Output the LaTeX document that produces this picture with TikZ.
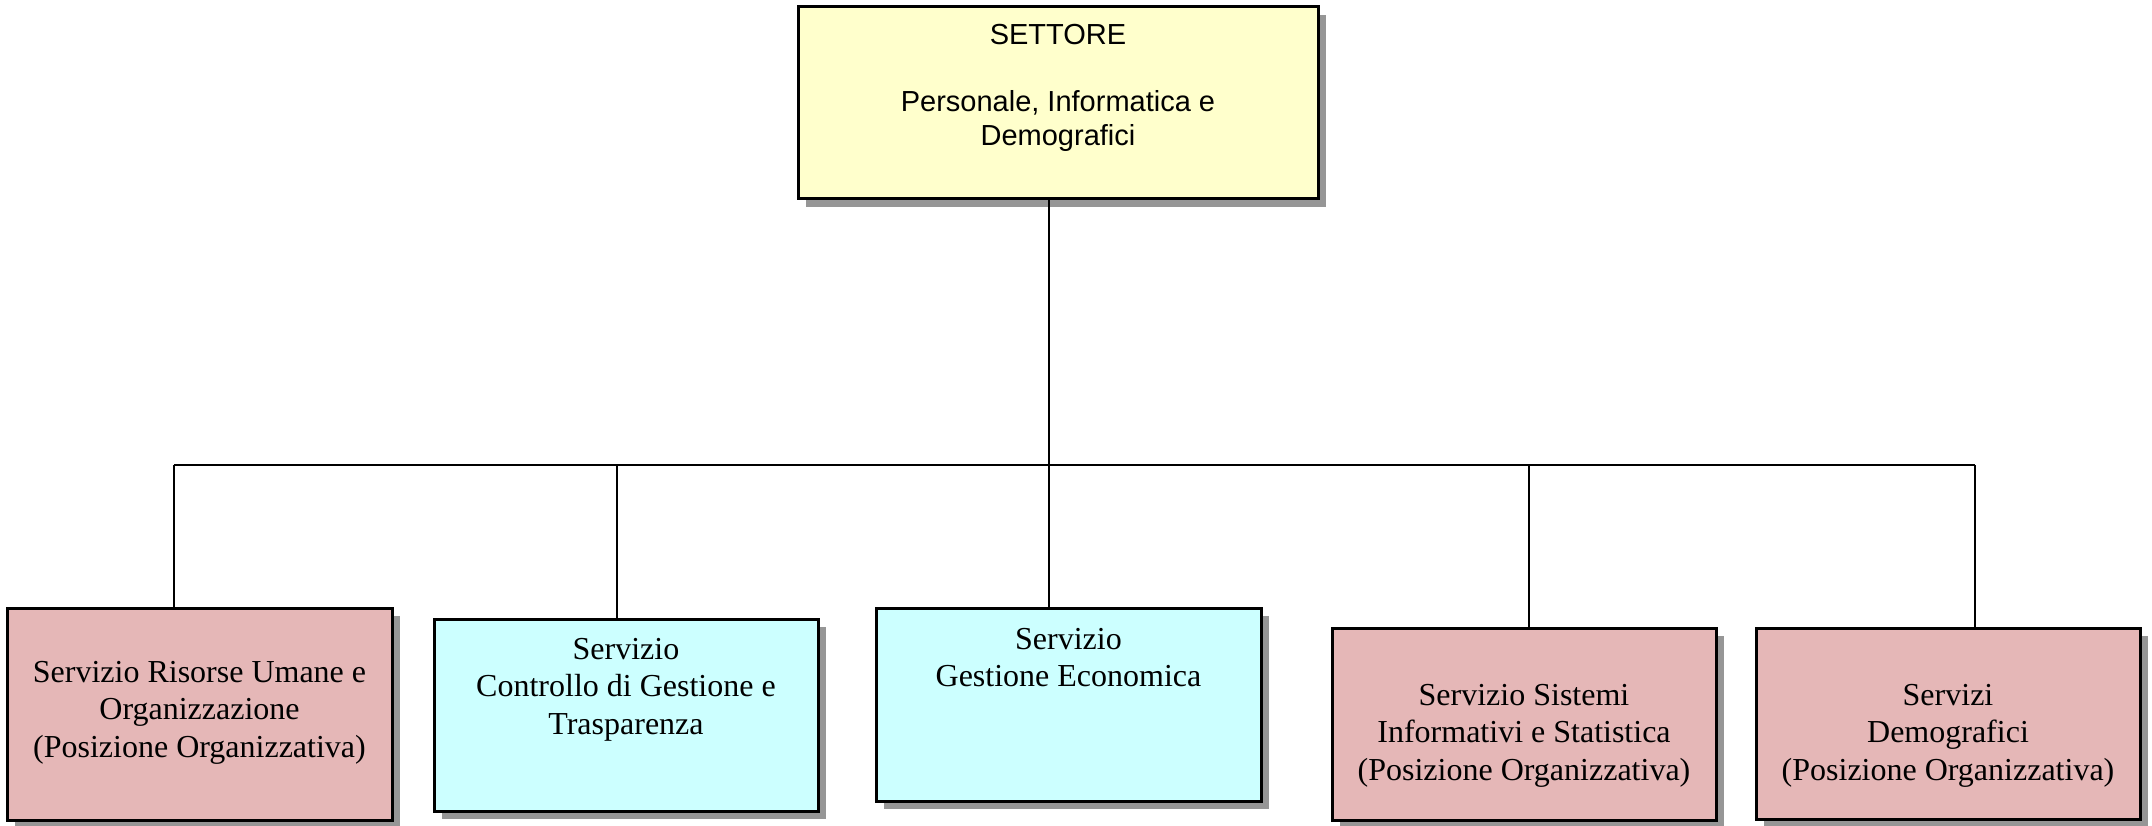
\documentclass[tikz,border=0pt]{standalone}
\usepackage{fontspec}
\setmainfont{Liberation Serif}
\newfontfamily\arialf{Liberation Sans}
\usetikzlibrary{shadows}
\definecolor{yel}{HTML}{FFFFCC}
\definecolor{cya}{HTML}{CCFFFF}
\definecolor{pnk}{HTML}{E5B7B7}
\definecolor{shd}{HTML}{969696}
\tikzset{
  orgbox/.style={draw=black, line width=3pt, inner sep=0pt, outer sep=0pt,
    anchor=north west,
    drop shadow={shadow xshift=8pt, shadow yshift=-8pt, fill=shd, opacity=1}},
  link/.style={line width=2pt, draw=black},
}
\newcommand{\boxtext}[4]{\parbox[c][#2pt][t]{#1pt}{\centering\fontsize{32}{37.5}\selectfont\rule{0pt}{#3pt}#4}}
\begin{document}
\begin{tikzpicture}[x=1pt,y=-1pt]
\useasboundingbox (0,0) rectangle (2152,826);
\node[orgbox, fill=yel] (top) at (798,7)
  {\parbox[c][192pt][t]{520pt}{\centering\arialf\fontsize{29}{33.5}\selectfont\rule{0pt}{38pt}SETTORE\\[33.5pt]Personale, Informatica e\\Demografici}};
\node[orgbox, fill=pnk] (b1) at (7,608)
  {\boxtext{385}{212}{74}{Servizio Risorse Umane e\\Organizzazione\\(Posizione Organizzativa)}};
\node[orgbox, fill=cya] (b2) at (434,619)
  {\boxtext{384}{192}{40}{Servizio\\Controllo di Gestione e\\Trasparenza}};
\node[orgbox, fill=cya] (b3) at (876,608)
  {\boxtext{385}{193}{41}{Servizio\\Gestione Economica}};
\node[orgbox, fill=pnk] (b4) at (1332,628)
  {\boxtext{384}{192}{77}{Servizio Sistemi\\Informativi e Statistica\\(Posizione Organizzativa)}};
\node[orgbox, fill=pnk] (b5) at (1756,628)
  {\boxtext{384}{191}{77}{Servizi\\Demografici\\(Posizione Organizzativa)}};
\coordinate (bus) at (1049,465);
\coordinate (j1) at (174,465);
\coordinate (j2) at (617,465);
\coordinate (j4) at (1529,465);
\coordinate (j5) at (1975,465);
\draw[link] (top.south -| bus) -- (bus);
\draw[link] (j1) -- (j5);
\draw[link] (j1) -- (j1 |- b1.north);
\draw[link] (j2) -- (j2 |- b2.north);
\draw[link] (bus) -- (bus |- b3.north);
\draw[link] (j4) -- (j4 |- b4.north);
\draw[link] (j5) -- (j5 |- b5.north);
\end{tikzpicture}
\end{document}
